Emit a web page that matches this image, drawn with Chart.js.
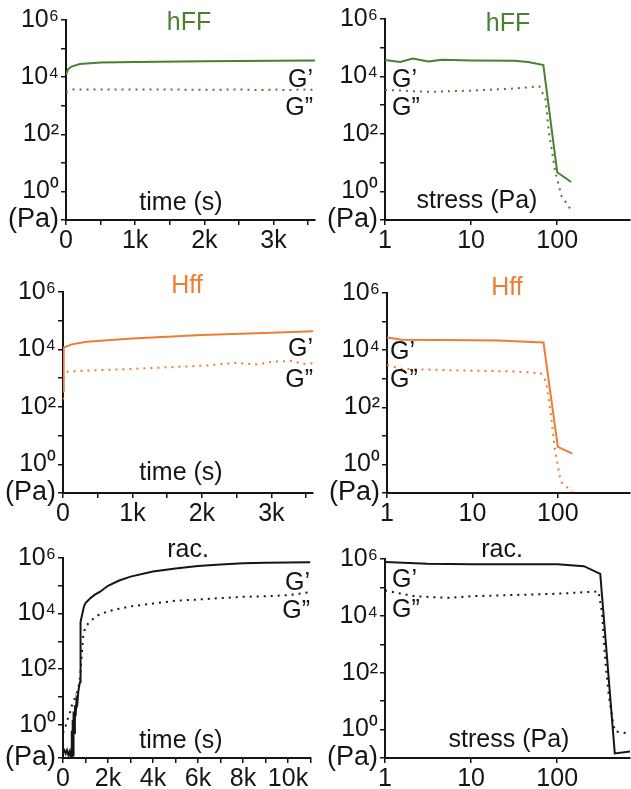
<!DOCTYPE html>
<html><head><meta charset="utf-8">
<script src="https://cdn.jsdelivr.net/npm/chart.js@4/dist/chart.umd.min.js"></script>
<style>
body{margin:0;background:#fff;width:631px;height:789px;position:relative;overflow:hidden}
canvas{position:absolute}
</style></head><body>
<canvas id="p1"></canvas><canvas id="p2"></canvas><canvas id="p3"></canvas>
<canvas id="p4"></canvas><canvas id="p5"></canvas><canvas id="p6"></canvas>
<script>
// ---------- DATA ----------
// hFF, time sweep
const hffTimeT   = [0, 30, 80, 200, 500, 1000, 2000, 3000, 3600];
const hffTimeG1  = [12000, 19000, 23500, 28800, 32400, 33900, 36300, 37200, 38000];
const hffTimeG2T = [0, 100, 500, 1000, 1500, 2000, 2500, 2800, 3000, 3200, 3400, 3600];
const hffTimeG2  = [3000, 3700, 3700, 3700, 3700, 3600, 3700, 3500, 3700, 3500, 3700, 3600];
// hFF, stress sweep
const hffStressX   = [1, 1.5, 2.1, 3.2, 4.6, 10, 32, 46, 69, 100, 145];
const hffStressG1  = [37000, 32000, 42000, 33000, 38000, 36000, 35000, 32000, 25000, 4.6, 2.1];
const hffStressG2X = [1, 3.2, 10, 32, 62, 73, 80, 95, 112, 141];
const hffStressG2  = [3400, 2900, 3200, 3800, 4500, 1600, 115, 4.7, 0.7, 0.25];
// Hff, time sweep
const HffTimeT   = [0, 10, 125, 340, 1000, 2000, 3000, 3600];
const HffTimeG1  = [355, 11700, 15000, 18500, 24000, 31500, 38000, 43000];
const HffTimeG2T = [0, 10, 70, 500, 1000, 2000, 2500, 2800, 3000, 3300, 3450, 3600];
const HffTimeG2  = [180, 1070, 1700, 1900, 2100, 2700, 3400, 3000, 3700, 4000, 3100, 3300];
// Hff, stress sweep
const HffStressX   = [1, 1.5, 10, 20, 68, 100, 148];
const HffStressG1  = [27500, 23000, 22400, 21900, 18500, 4.1, 2.4];
const HffStressG2X = [1, 1.5, 10, 31, 63, 73, 83, 92, 108, 148];
const HffStressG2  = [3000, 2200, 1900, 1800, 1550, 790, 54, 3.6, 0.25, 0.11];
// rac., time sweep
const racTimeT  = [0, 60, 120, 180, 240, 300, 340, 370, 390, 410, 430, 450, 470, 500, 530, 560, 600, 640, 680, 720, 760, 770, 790, 930, 1000, 1200, 1400, 1650, 2000, 2500, 3000, 4000, 5000, 6000, 7000, 8000, 9000, 10000, 11000];
const racTimeG1 = [0.1, 0.12, 0.09, 0.12, 0.08, 0.11, 0.07, 0.07, 0.6, 0.07, 1.5, 0.08, 3, 0.5, 5, 2, 8, 6, 15, 25, 35, 70, 5000, 18000, 24000, 35000, 47000, 61000, 100000, 155000, 214000, 324000, 420000, 513000, 585000, 646000, 670000, 690000, 700000];
const racTimeG2T = [0, 100, 200, 300, 400, 500, 600, 700, 760, 900, 1000, 1200, 1500, 2000, 2500, 3000, 4000, 5000, 6000, 7000, 8000, 9000, 10000, 10500, 11000];
const racTimeG2  = [0.5, 0.8, 1.5, 2.6, 5, 8, 12.6, 25, 50, 1700, 3400, 5100, 8300, 12000, 15000, 18000, 23000, 29000, 32000, 36000, 40000, 42000, 46000, 52000, 60000];
// rac., stress sweep
const racStressX   = [1, 3.1, 10, 100, 204, 316, 466, 708];
const racStressG1  = [780000, 680000, 660000, 650000, 560000, 300000, 0.145, 0.17];
const racStressG2X = [1, 2.2, 5.4, 10, 100, 302, 331, 363, 398, 445, 468, 550, 708];
const racStressG2  = [78000, 49000, 43000, 49000, 60000, 72000, 12600, 230, 15, 1.7, 0.87, 0.8, 0.72];

// tick values and labels
const yDecades = [1, 10, 100, 1e3, 1e4, 1e5, 1e6];
const logXTicks = [1, 10, 100];
const shortTimeTicks  = [0, 500, 1000, 1500, 2000, 2500, 3000, 3500];
const shortTimeLabels = ['0', '', '1k', '', '2k', '', '3k', ''];
const longTimeTicks  = [0, 1000, 2000, 3000, 4000, 5000, 6000, 7000, 8000, 9000, 10000, 11000];
const longTimeLabels = ['0', '', '2k', '', '4k', '', '6k', '', '8k', '', '10k', ''];

// ---------- STYLE ----------
const FONT = "'Liberation Sans', Arial, sans-serif";
const GREEN = '#4C7F33', ORANGE = '#F07B35', BLACK = '#151515';
const SUP = {'-':'\u207B','0':'\u2070','1':'\u00B9','2':'\u00B2','3':'\u00B3','4':'\u2074','5':'\u2075','6':'\u2076','7':'\u2077','8':'\u2078','9':'\u2079'};

const textPlugin = {
  id: 'texts',
  afterDraw(chart, args, opts) {
    const ctx = chart.ctx;
    (opts.items || []).forEach(t => {
      ctx.save();
      ctx.font = (t.size || 25) + 'px ' + FONT;
      ctx.fillStyle = t.color || BLACK;
      ctx.textAlign = t.align || 'center';
      ctx.textBaseline = 'alphabetic';
      ctx.fillText(t.text, t.x - opts.ox, t.y - opts.oy);
      ctx.restore();
    });
  }
};

function pts(xs, ys) { return xs.map((x, i) => ({x: x, y: ys[i]})); }

function panel(id, g, cfg) {
  const cv = document.getElementById(id);
  cv.width = g.w; cv.height = g.h;
  cv.style.left = g.l + 'px'; cv.style.top = g.t + 'px';
  const axisCommon = {
    border: {display: true, color: BLACK, width: 2},
    grid: {drawOnChartArea: false, drawTicks: true, tickLength: 5, color: BLACK, lineWidth: 1.5},
  };
  const xScale = cfg.xLog ? {
    type: 'logarithmic', min: 1, max: cfg.xMax,
    afterBuildTicks(s) { s.ticks = logXTicks.map(v => ({value: v})); },
    ticks: {font: {family: FONT, size: 25}, color: BLACK, padding: 1, autoSkip: false, maxRotation: 0,
      callback: v => String(v)}
  } : {
    type: 'linear', min: 0, max: cfg.xMax,
    afterBuildTicks(s) { s.ticks = cfg.xTicks.map(v => ({value: v})); },
    ticks: {font: {family: FONT, size: 25}, color: BLACK, padding: 1, autoSkip: false, maxRotation: 0,
      callback: (v, i) => cfg.xLabels[i]}
  };
  Object.assign(xScale, axisCommon, {afterFit(s) { s.height = g.xh; }});
  const yScale = Object.assign({
    type: 'logarithmic', min: cfg.yMin, max: 1e6,
    afterBuildTicks(s) { s.ticks = [s.min].concat(yDecades.filter(v => v > s.min * 1.01)).map(v => ({value: v})); },
    afterFit(s) { s.width = g.yw; },
    ticks: {font: c => ({family: FONT, size: c.index === 0 ? 27 : 25}), color: BLACK, padding: 2, autoSkip: false,
      callback: (v, i) => {
        if (i === 0) return '(Pa)';
        const e = Math.round(Math.log10(v));
        return e % 2 === 0 ? '10' + String(e).split('').map(c => SUP[c]).join('') : '';
      }}
  }, axisCommon);
  new Chart(cv, {
    type: 'line',
    data: {datasets: [
      {data: pts(cfg.g1x, cfg.g1), borderColor: cfg.color, borderWidth: 2, pointRadius: 0, tension: 0, fill: false},
      {data: pts(cfg.g2x, cfg.g2), borderColor: cfg.color, borderWidth: 2, borderDash: [2, 5], pointRadius: 0, tension: 0, fill: false}
    ]},
    options: {
      responsive: false, animation: false, devicePixelRatio: 1,
      layout: {padding: {top: g.pt, right: g.pr, left: 0, bottom: 0}},
      scales: {x: xScale, y: yScale},
      plugins: {legend: {display: false}, tooltip: {enabled: false}, title: {display: false},
        texts: {ox: g.l, oy: g.t, items: cfg.texts}}
    },
    plugins: [textPlugin]
  });
}

// Row 1
panel('p1', {l: 0, t: 0, w: 318, h: 262, yw: 66, xh: 42, pt: 20, pr: 3}, {
  xLog: false, xMax: 3600, xTicks: shortTimeTicks, xLabels: shortTimeLabels, yMin: 0.1, color: GREEN,
  g1x: hffTimeT, g1: hffTimeG1, g2x: hffTimeG2T, g2: hffTimeG2,
  texts: [
    {text: 'hFF', x: 189, y: 30, color: GREEN},
    {text: 'G\u2019', x: 313, y: 87, align: 'right'},
    {text: 'G\u201D', x: 313, y: 115, align: 'right'},
    {text: 'time (s)', x: 181, y: 210}
  ]});
panel('p2', {l: 318, t: 0, w: 313, h: 262, yw: 67, xh: 42, pt: 19, pr: 1}, {
  xLog: true, xMax: 700, yMin: 0.1, color: GREEN,
  g1x: hffStressX, g1: hffStressG1, g2x: hffStressG2X, g2: hffStressG2,
  texts: [
    {text: 'hFF', x: 508, y: 31, color: GREEN},
    {text: 'G\u2019', x: 392, y: 87, align: 'left'},
    {text: 'G\u201D', x: 392, y: 115, align: 'left'},
    {text: 'stress (Pa)', x: 477, y: 208}
  ]});
// Row 2
panel('p3', {l: 0, t: 265, w: 318, h: 270, yw: 63, xh: 42, pt: 27, pr: 5}, {
  xLog: false, xMax: 3600, xTicks: shortTimeTicks, xLabels: shortTimeLabels, yMin: 0.1, color: ORANGE,
  g1x: HffTimeT, g1: HffTimeG1, g2x: HffTimeG2T, g2: HffTimeG2,
  texts: [
    {text: 'Hff', x: 187, y: 293, color: ORANGE},
    {text: 'G\u2019', x: 313, y: 356, align: 'right'},
    {text: 'G\u201D', x: 313, y: 387, align: 'right'},
    {text: 'time (s)', x: 181, y: 480}
  ]});
panel('p4', {l: 318, t: 265, w: 313, h: 270, yw: 69, xh: 42, pt: 28, pr: 1}, {
  xLog: true, xMax: 700, yMin: 0.1, color: ORANGE,
  g1x: HffStressX, g1: HffStressG1, g2x: HffStressG2X, g2: HffStressG2,
  texts: [
    {text: 'Hff', x: 507, y: 295, color: ORANGE},
    {text: 'G\u2019', x: 390, y: 359, align: 'left'},
    {text: 'G\u201D', x: 390, y: 387, align: 'left'}
  ]});
// Row 3
panel('p5', {l: 0, t: 530, w: 318, h: 259, yw: 63, xh: 31, pt: 28, pr: 7.5}, {
  xLog: false, xMax: 11000, xTicks: longTimeTicks, xLabels: longTimeLabels, yMin: 0.063, color: BLACK,
  g1x: racTimeT, g1: racTimeG1, g2x: racTimeG2T, g2: racTimeG2,
  texts: [
    {text: 'rac.', x: 188, y: 557},
    {text: 'G\u2019', x: 310, y: 590, align: 'right'},
    {text: 'G\u201D', x: 310, y: 618, align: 'right'},
    {text: 'time (s)', x: 181, y: 748}
  ]});
panel('p6', {l: 318, t: 530, w: 313, h: 259, yw: 67, xh: 31, pt: 29, pr: 1}, {
  xLog: true, xMax: 700, yMin: 0.1, color: BLACK,
  g1x: racStressX, g1: racStressG1, g2x: racStressG2X, g2: racStressG2,
  texts: [
    {text: 'rac.', x: 502, y: 557},
    {text: 'G\u2019', x: 392, y: 587, align: 'left'},
    {text: 'G\u201D', x: 392, y: 617, align: 'left'},
    {text: 'stress (Pa)', x: 509, y: 747}
  ]});
</script>
</body></html>
